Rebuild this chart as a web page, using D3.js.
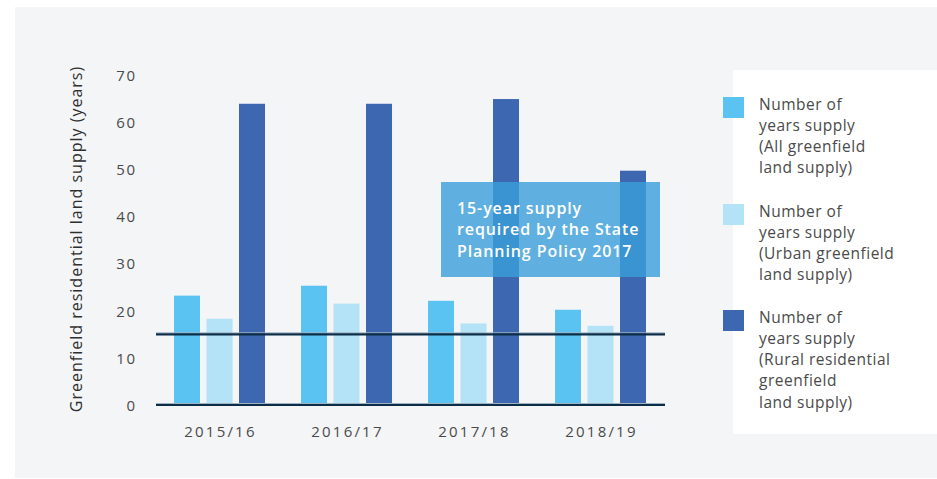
<!DOCTYPE html>
<html>
<head>
<meta charset="utf-8">
<script src="https://cdn.jsdelivr.net/npm/d3@7"></script>
<style>
  html, body { margin: 0; padding: 0; background: #ffffff; }
  svg { display: block; }
  text { font-family: "Open Sans", "Lato", sans-serif; }
</style>
</head>
<body>
<svg id="chart" width="937" height="479"></svg>
<script>
// Financial years shown on the x axis
const categories = ["2015/16", "2016/17", "2017/18", "2018/19"];

// Years of supply for each land type
const allGreenfield = [23.2, 25.3, 22.1, 20.2];
const urbanGreenfield = [18.3, 21.5, 17.3, 16.8];
const ruralResidential = [63.9, 63.9, 64.9, 49.7];

// Minimum supply required by the State Planning Policy
const requiredSupply = 15;

const yTicks = [0, 10, 20, 30, 40, 50, 60, 70];

const seriesNames = [
  ["Number of", "years supply", "(All greenfield", "land supply)"],
  ["Number of", "years supply", "(Urban greenfield", "land supply)"],
  ["Number of", "years supply", "(Rural residential", "greenfield", "land supply)"]
];
const seriesValues = [allGreenfield, urbanGreenfield, ruralResidential];
const seriesColors = ["#5bc3f1", "#b4e2f6", "#3d68b1"];

const annotationLines = ["15-year supply", "required by the State", "Planning Policy 2017"];

const svg = d3.select("#chart");

// Panel background
svg.append("rect").attr("x", 15).attr("y", 7).attr("width", 922).attr("height", 471)
  .attr("fill", "#f4f5f7");

const x0 = d3.scaleBand().domain(categories).range([156, 664]).padding(0);
const x1 = d3.scaleBand().domain(d3.range(3)).range([18, 109]).paddingInner(0.2).paddingOuter(0);
const y = d3.scaleLinear().domain([0, 70]).range([405, 75]);

// Y axis tick labels (offset by the trailing letter-spacing)
const yAxis = svg.append("g").attr("transform", "translate(136.5,0)")
  .call(d3.axisLeft(y).tickValues(yTicks).tickSize(0).tickPadding(0));
yAxis.select(".domain").remove();
yAxis.selectAll("text")
  .attr("font-size", 15).attr("fill", "#4a4a4a")
  .attr("letter-spacing", "1.5px")
  .style("font-family", "'Open Sans', Lato, sans-serif")
  .attr("dy", "0.36em");

// Y axis title
svg.append("text")
  .attr("transform", "translate(82,239) rotate(-90)")
  .attr("text-anchor", "middle")
  .attr("font-size", 16).attr("font-weight", 500).attr("fill", "#2e2e2e")
  .attr("letter-spacing", "1px")
  .text("Greenfield residential land supply (years)");

// X axis labels
const xAxis = svg.append("g").attr("transform", "translate(1,432)")
  .call(d3.axisBottom(x0).tickSize(0).tickPadding(0));
xAxis.select(".domain").remove();
xAxis.selectAll("text")
  .attr("font-size", 15).attr("fill", "#4a4a4a")
  .attr("letter-spacing", "2.2px")
  .style("font-family", "'Open Sans', Lato, sans-serif")
  .attr("dy", "0.36em");

// Bars
const groups = svg.append("g").selectAll("g").data(categories).join("g")
  .attr("transform", d => `translate(${x0(d)},0)`);
groups.selectAll("rect")
  .data((d, i) => seriesValues.map((vals, s) => ({ s, v: vals[i] })))
  .join("rect")
  .attr("x", d => x1(d.s))
  .attr("width", x1.bandwidth())
  .attr("y", d => y(d.v))
  .attr("height", d => y(0) - y(d.v))
  .attr("fill", d => seriesColors[d.s]);

// Reference lines at zero and at the required supply
[0, requiredSupply].forEach(v => {
  svg.append("line").attr("x1", 156).attr("x2", 665)
    .attr("y1", y(v) - 1.5).attr("y2", y(v) - 1.5)
    .attr("stroke", "#9fb2c2").attr("stroke-width", 1);
  svg.append("line").attr("x1", 156).attr("x2", 665)
    .attr("y1", y(v)).attr("y2", y(v))
    .attr("stroke", "#0c2d47").attr("stroke-width", 2.2);
});

// Annotation box
const ann = svg.append("g");
ann.append("rect").attr("x", 441).attr("y", 182).attr("width", 219).attr("height", 95)
  .attr("fill", "rgb(58,159,217)").attr("fill-opacity", 0.8);
ann.selectAll("text").data(annotationLines).join("text")
  .attr("x", 457).attr("y", (d, i) => 208 + i * 21.5)
  .attr("dy", "0.35em")
  .attr("font-size", 16).attr("font-weight", 600).attr("fill", "#ffffff")
  .attr("letter-spacing", "0.9px")
  .text(d => d);

// Legend panel
svg.append("rect").attr("x", 733).attr("y", 70).attr("width", 204).attr("height", 364)
  .attr("fill", "#ffffff");
const legendTop = [97, 204, 310];
const legend = svg.append("g").selectAll("g").data(seriesNames).join("g")
  .attr("transform", (d, i) => `translate(723,${legendTop[i]})`);
legend.append("rect").attr("width", 21).attr("height", 21)
  .attr("fill", (d, i) => seriesColors[i]);
legend.selectAll("text").data(d => d).join("text")
  .attr("x", 36).attr("y", (d, i) => 7 + i * 21.3)
  .attr("dy", "0.36em")
  .attr("font-size", 15.5).attr("fill", "#4a4a4a")
  .attr("letter-spacing", "0.5px")
  .text(d => d);
</script>
</body>
</html>
